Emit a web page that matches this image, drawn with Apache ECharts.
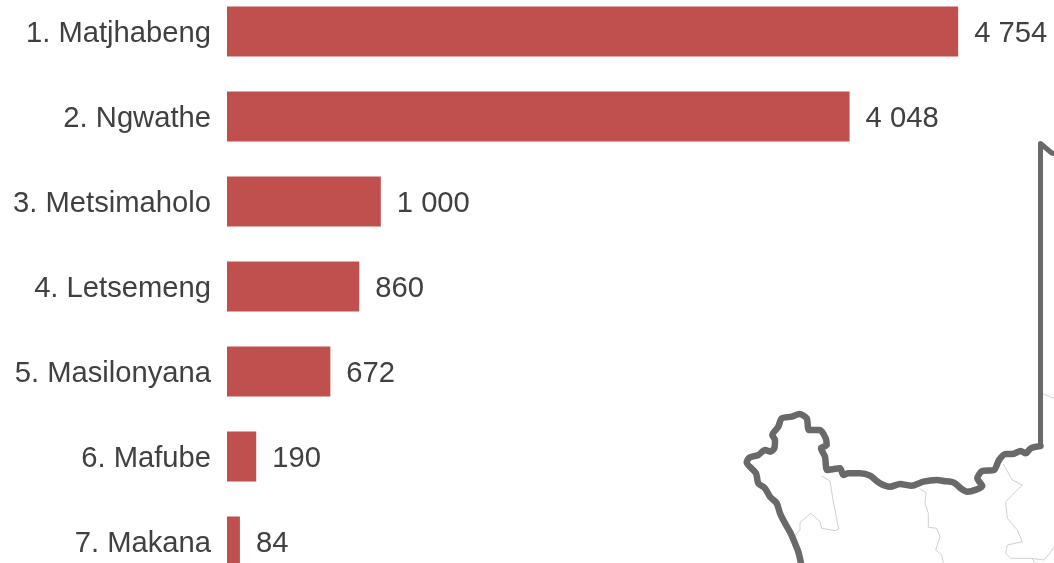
<!DOCTYPE html>
<html><head><meta charset="utf-8">
<style>html,body{margin:0;padding:0;background:#fff;overflow:hidden}#c{width:1054px;height:563px}</style>
<script src="https://cdn.jsdelivr.net/npm/echarts@6/dist/echarts.min.js"></script>
</head><body><div id="c"></div>
<script>
const categories = ["1. Matjhabeng","2. Ngwathe","3. Metsimaholo","4. Letsemeng","5. Masilonyana","6. Mafube","7. Makana"];
const values = [4754,4048,1000,860,672,190,84];
const provinceOutline = [[801,563],[798.3,551.7],[794.3,541.7],[790.7,533.3],[785,523.3],[780,513.3],[776.7,503.3],[770,496.7],[765,488.3],[758.3,483.3],[756,473.3],[746.7,462.3],[749.3,457.7],[758.3,455],[765,450],[770,451.7],[774.3,448.3],[775,440],[772.3,435],[778.3,426.7],[781.7,418.3],[791.7,416.7],[799.3,414],[806.7,418.3],[809,430],[820,430],[825.7,438.3],[826.7,445],[821,448.3],[825,456.7],[827.3,470],[840,468.3],[843.3,475],[848.3,473.3],[860,473.3],[870,475.7],[880,483.3],[890,486.7],[900,484],[911.7,485.7],[923.3,481.7],[936.7,480],[944,481],[954,482.7],[960.7,488.3],[967.3,491.7],[982.3,486],[977.3,478.3],[982.3,471],[994,470],[999,460],[1005.7,454],[1012.3,454],[1020.7,451],[1025.7,453.3],[1030.7,448.3],[1040.5,446]];
const straightBorder = [[1040.5,446],[1040.5,143.5],[1051.7,153],[1054,153.5]];
const districtA = [[821.7,476],[830,481],[832.7,498.3],[838.7,529],[835,530.7],[821.7,528.3],[820,521.7],[810.7,513.3],[805,518.3],[800,522.3],[800,530],[795,535.7]];
const districtB = [[919.3,488.3],[926,492.7],[925,503.3],[928.3,513.3],[928.3,527.3],[936.7,528.3],[940,536.7],[935.7,550],[941.7,555],[943.3,563]];
const districtC = [[1003.3,464],[1012.3,480],[1022.3,485],[1005.7,501.7],[1007.3,518.3],[1017.3,530],[1022.3,541.7],[1007.3,545],[1005.7,553.3],[1010.7,558.3],[1031.3,558.3],[1035.7,563]];
const districtD = [[1031.3,558.3],[1044,560],[1050,553],[1054,546.7]];
const districtE = [[1041.7,393.3],[1054,398.3]];

const thin = d => ({type:'line',xAxisIndex:1,yAxisIndex:1,data:d,symbol:'none',silent:true,z:1,
  lineStyle:{color:'#d0d0d0',width:1}});
const chart = echarts.init(document.getElementById('c'),null,{renderer:'canvas'});
const textStyle = {color:'#404040',fontFamily:'"Liberation Sans",Arial,sans-serif',fontSize:29.2};
const richShifted = {a:Object.assign({padding:[4,0,0,0]},textStyle)};
chart.setOption({
  animation:false,
  backgroundColor:'#fff',
  grid:[{left:227,top:-11,width:769,height:595,outerBoundsMode:'none'},{left:0,top:0,width:1054,height:563,outerBoundsMode:'none'}],
  xAxis:[
    {type:'value',gridIndex:0,min:0,max:5000,show:false},
    {type:'value',gridIndex:1,min:0,max:1054,show:false}
  ],
  yAxis:[
    {type:'category',gridIndex:0,data:categories,inverse:true,
     axisLine:{show:false},axisTick:{show:false},splitLine:{show:false},
     axisLabel:{margin:16,formatter:'{a|{value}}',rich:richShifted}},
    {type:'value',gridIndex:1,min:0,max:563,inverse:true,show:false}
  ],
  series:[
    thin(districtA),thin(districtB),thin(districtC),thin(districtD),thin(districtE),
    {type:'line',xAxisIndex:1,yAxisIndex:1,data:provinceOutline,symbol:'none',silent:true,z:2,smooth:0.25,
     lineStyle:{color:'#696969',width:6.5,join:'round',cap:'round'}},
    {type:'line',xAxisIndex:1,yAxisIndex:1,data:straightBorder,symbol:'none',silent:true,z:2,
     lineStyle:{color:'#696969',width:5,join:'round',cap:'round'}},
    {type:'bar',xAxisIndex:0,yAxisIndex:0,data:values,barWidth:50,z:3,
     itemStyle:{color:'#C0504D'},
     label:Object.assign({show:true,position:'right',distance:16,offset:[0,2],
       formatter:p=>String(p.value).replace(/\B(?=(\d{3})+$)/g,' ')},textStyle)}
  ]
});
</script></body></html>
